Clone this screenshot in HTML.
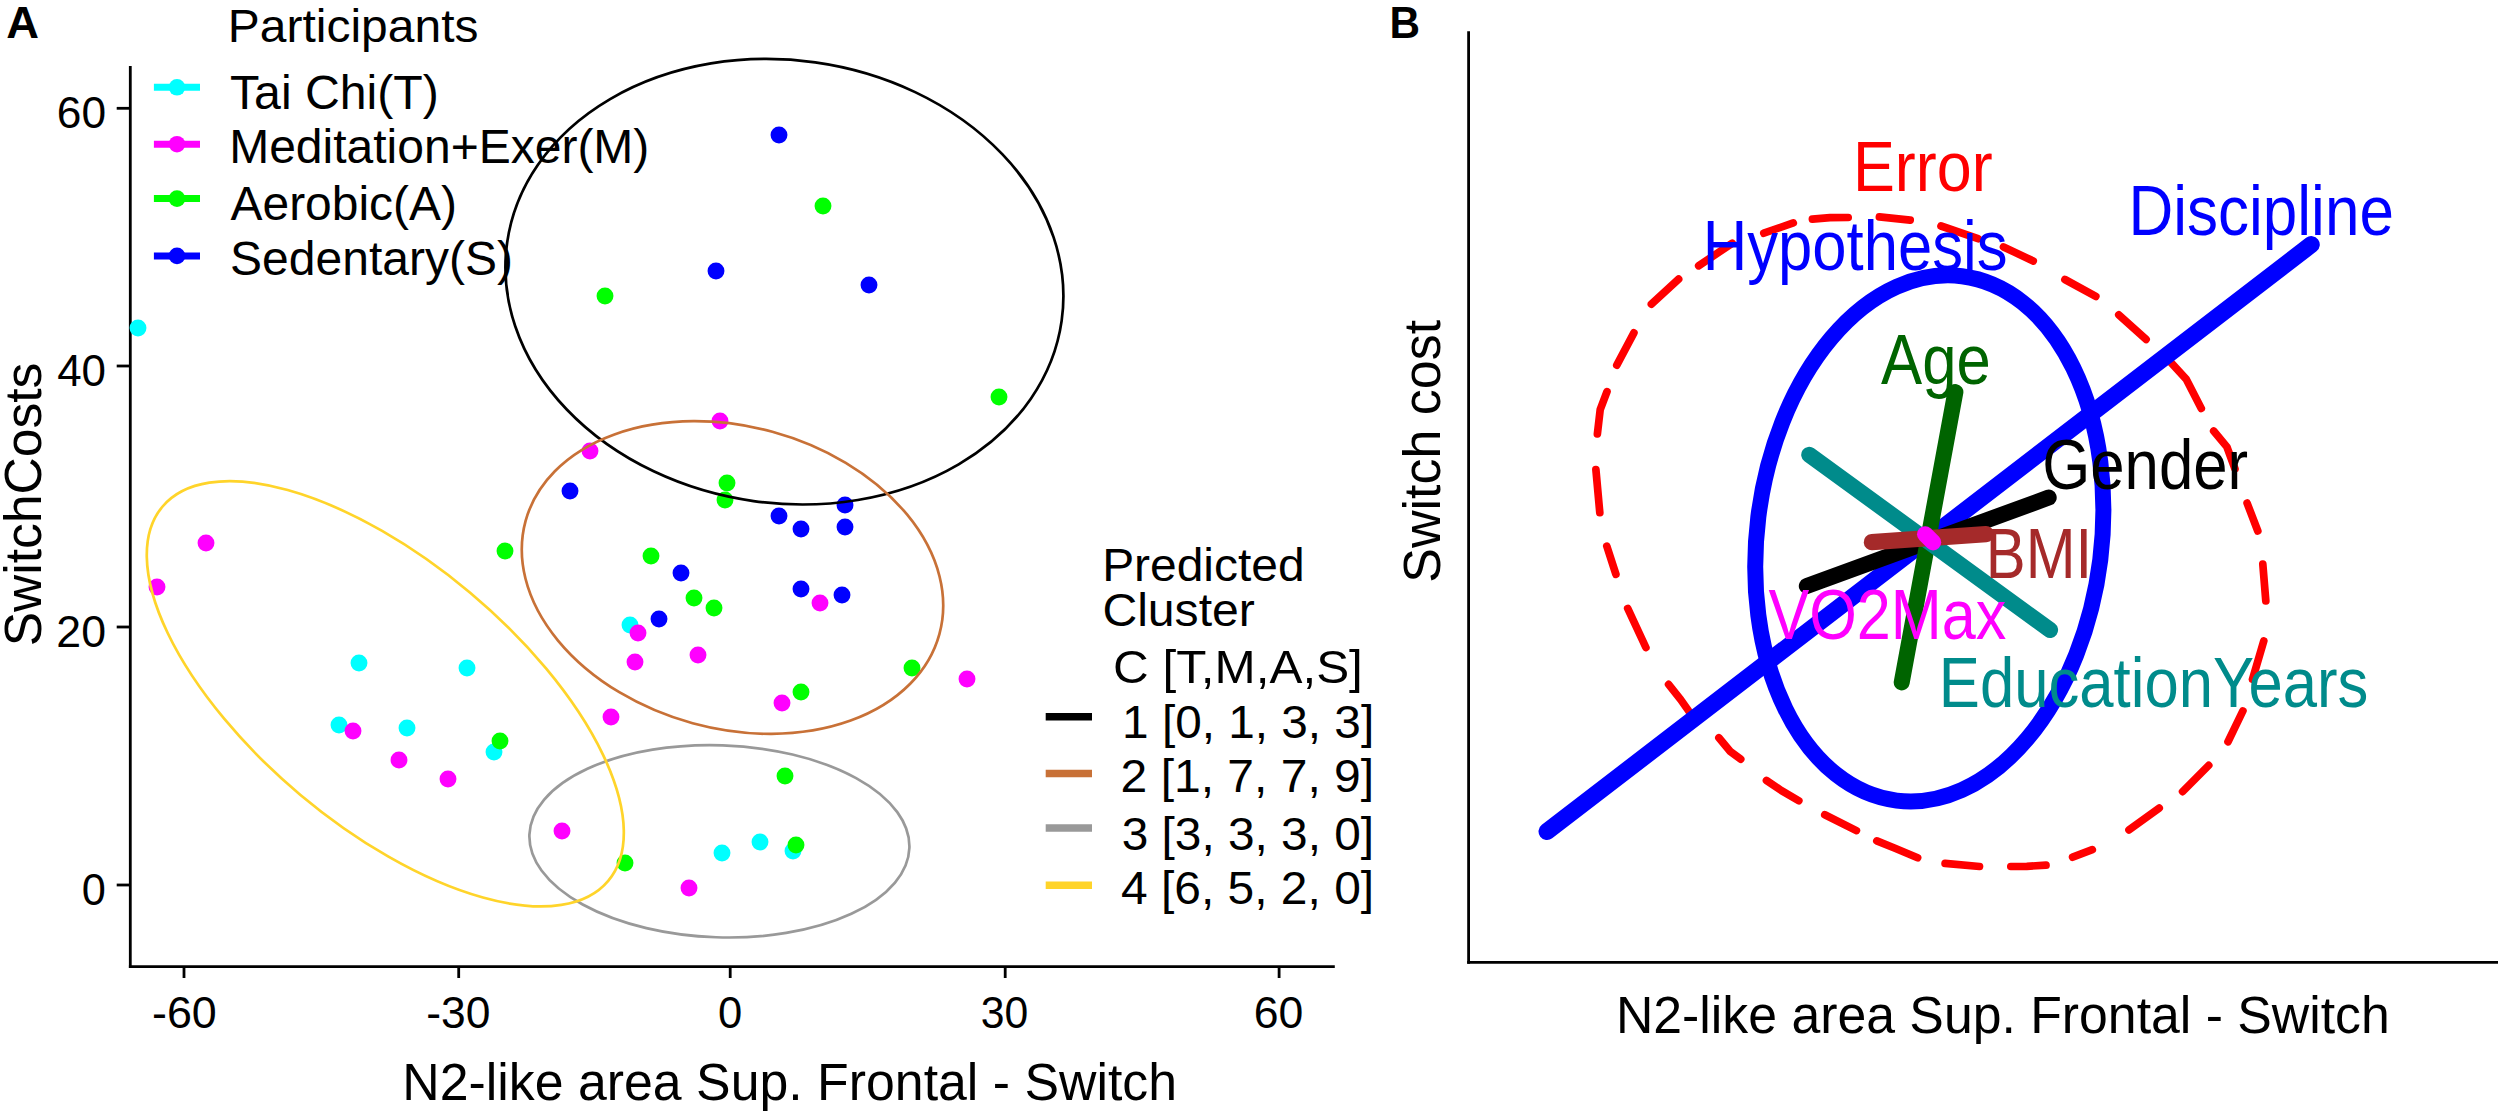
<!DOCTYPE html>
<html><head><meta charset="utf-8"><title>Figure</title>
<style>html,body{margin:0;padding:0;background:#fff;overflow:hidden;}svg{display:block}text{font-family:"Liberation Sans",Arial,Helvetica,sans-serif}</style>
</head><body>
<svg width="2500" height="1112" viewBox="0 0 2500 1112">
<rect width="2500" height="1112" fill="#fff"/>
<g id="panelA">
<line x1="130.3" y1="66" x2="130.3" y2="968.0" stroke="#000" stroke-width="2.8"/>
<line x1="128.9" y1="966.6" x2="1334.8" y2="966.6" stroke="#000" stroke-width="2.8"/>
<line x1="116.7" y1="108.3" x2="130.3" y2="108.3" stroke="#000" stroke-width="2.8"/>
<text transform="translate(56.78 128.10) scale(1.0069 1)" font-size="44.00">60</text>
<line x1="116.7" y1="366" x2="130.3" y2="366" stroke="#000" stroke-width="2.8"/>
<text transform="translate(57.21 385.80) scale(0.9978 1)" font-size="44.00">40</text>
<line x1="116.7" y1="627" x2="130.3" y2="627" stroke="#000" stroke-width="2.8"/>
<text transform="translate(56.37 646.80) scale(1.0158 1)" font-size="44.00">20</text>
<line x1="116.7" y1="885" x2="130.3" y2="885" stroke="#000" stroke-width="2.8"/>
<text transform="translate(81.87 904.80) scale(0.9852 1)" font-size="44.00">0</text>
<line x1="184" y1="966.6" x2="184" y2="978" stroke="#000" stroke-width="2.8"/>
<text transform="translate(151.98 1027.80) scale(1.0192 1)" font-size="44.00">-60</text>
<line x1="458.7" y1="966.6" x2="458.7" y2="978" stroke="#000" stroke-width="2.8"/>
<text transform="translate(426.20 1027.80) scale(1.0092 1)" font-size="44.00">-30</text>
<line x1="730.2" y1="966.6" x2="730.2" y2="978" stroke="#000" stroke-width="2.8"/>
<text transform="translate(718.06 1027.80) scale(0.9900 1)" font-size="44.00">0</text>
<line x1="1005.2" y1="966.6" x2="1005.2" y2="978" stroke="#000" stroke-width="2.8"/>
<text transform="translate(980.70 1027.80) scale(0.9706 1)" font-size="44.00">30</text>
<line x1="1279.1" y1="966.6" x2="1279.1" y2="978" stroke="#000" stroke-width="2.8"/>
<text transform="translate(1253.67 1027.80) scale(1.0136 1)" font-size="44.00">60</text>
<text transform="translate(402.32 1100.20) scale(1.0163 1)" font-size="51.00">N2-like area Sup. Frontal - Switch</text>
<text transform="translate(40.80 646.32) rotate(-90) scale(1.0114 1)" font-size="51.00">SwitchCosts</text>
<text transform="translate(6.27 38.30) scale(1.0219 1)" font-size="44.40" font-weight="bold">A</text>
<circle cx="138" cy="328" r="8.45" fill="#00ffff"/>
<circle cx="359" cy="663" r="8.45" fill="#00ffff"/>
<circle cx="467" cy="668" r="8.45" fill="#00ffff"/>
<circle cx="339" cy="725" r="8.45" fill="#00ffff"/>
<circle cx="407" cy="728" r="8.45" fill="#00ffff"/>
<circle cx="494" cy="752" r="8.45" fill="#00ffff"/>
<circle cx="630" cy="625" r="8.45" fill="#00ffff"/>
<circle cx="722" cy="853" r="8.45" fill="#00ffff"/>
<circle cx="760" cy="842" r="8.45" fill="#00ffff"/>
<circle cx="793" cy="851" r="8.45" fill="#00ffff"/>
<circle cx="720" cy="421" r="8.45" fill="#ff00ff"/>
<circle cx="590" cy="451" r="8.45" fill="#ff00ff"/>
<circle cx="206" cy="543" r="8.45" fill="#ff00ff"/>
<circle cx="157" cy="587" r="8.45" fill="#ff00ff"/>
<circle cx="638" cy="633" r="8.45" fill="#ff00ff"/>
<circle cx="635" cy="662" r="8.45" fill="#ff00ff"/>
<circle cx="698" cy="655" r="8.45" fill="#ff00ff"/>
<circle cx="820" cy="603" r="8.45" fill="#ff00ff"/>
<circle cx="967" cy="679" r="8.45" fill="#ff00ff"/>
<circle cx="782" cy="703" r="8.45" fill="#ff00ff"/>
<circle cx="611" cy="717" r="8.45" fill="#ff00ff"/>
<circle cx="353" cy="731" r="8.45" fill="#ff00ff"/>
<circle cx="399" cy="760" r="8.45" fill="#ff00ff"/>
<circle cx="448" cy="779" r="8.45" fill="#ff00ff"/>
<circle cx="562" cy="831" r="8.45" fill="#ff00ff"/>
<circle cx="689" cy="888" r="8.45" fill="#ff00ff"/>
<circle cx="823" cy="206" r="8.45" fill="#00ff00"/>
<circle cx="605" cy="296" r="8.45" fill="#00ff00"/>
<circle cx="999" cy="397" r="8.45" fill="#00ff00"/>
<circle cx="727" cy="483" r="8.45" fill="#00ff00"/>
<circle cx="725" cy="500" r="8.45" fill="#00ff00"/>
<circle cx="505" cy="551" r="8.45" fill="#00ff00"/>
<circle cx="651" cy="556" r="8.45" fill="#00ff00"/>
<circle cx="694" cy="598" r="8.45" fill="#00ff00"/>
<circle cx="714" cy="608" r="8.45" fill="#00ff00"/>
<circle cx="912" cy="668" r="8.45" fill="#00ff00"/>
<circle cx="801" cy="692" r="8.45" fill="#00ff00"/>
<circle cx="500" cy="741" r="8.45" fill="#00ff00"/>
<circle cx="785" cy="776" r="8.45" fill="#00ff00"/>
<circle cx="796" cy="845" r="8.45" fill="#00ff00"/>
<circle cx="625" cy="863" r="8.45" fill="#00ff00"/>
<circle cx="779" cy="135" r="8.45" fill="#0000ff"/>
<circle cx="716" cy="271" r="8.45" fill="#0000ff"/>
<circle cx="869" cy="285" r="8.45" fill="#0000ff"/>
<circle cx="570" cy="491" r="8.45" fill="#0000ff"/>
<circle cx="845" cy="505" r="8.45" fill="#0000ff"/>
<circle cx="779" cy="516" r="8.45" fill="#0000ff"/>
<circle cx="801" cy="529" r="8.45" fill="#0000ff"/>
<circle cx="845" cy="527" r="8.45" fill="#0000ff"/>
<circle cx="681" cy="573" r="8.45" fill="#0000ff"/>
<circle cx="801" cy="589" r="8.45" fill="#0000ff"/>
<circle cx="842" cy="595" r="8.45" fill="#0000ff"/>
<circle cx="659" cy="619" r="8.45" fill="#0000ff"/>
<ellipse cx="784.4" cy="281.7" rx="280" ry="221.5" transform="rotate(8 784.4 281.7)" fill="none" stroke="#000" stroke-width="2.7" />
<ellipse cx="732.5" cy="577.5" rx="214.5" ry="151.1" transform="rotate(15.3 732.5 577.5)" fill="none" stroke="#c87137" stroke-width="2.7" />
<ellipse cx="719.4" cy="841.3" rx="190.1" ry="96" transform="rotate(2 719.4 841.3)" fill="none" stroke="#999999" stroke-width="2.7" />
<ellipse cx="385.3" cy="693.8" rx="291" ry="132" transform="rotate(40 385.3 693.8)" fill="none" stroke="#ffd42a" stroke-width="2.7" />
<text transform="translate(227.84 41.80) scale(1.0412 1)" font-size="46.09">Participants</text>
<line x1="153.9" y1="87.3" x2="200" y2="87.3" stroke="#00ffff" stroke-width="7"/>
<circle cx="177" cy="87.3" r="8.3" fill="#00ffff"/>
<text transform="translate(230.02 109.20) scale(1.0209 1)" font-size="47.21">Tai Chi(T)</text>
<line x1="153.9" y1="144.2" x2="200" y2="144.2" stroke="#ff00ff" stroke-width="7"/>
<circle cx="177" cy="144.2" r="8.3" fill="#ff00ff"/>
<text transform="translate(229.14 163.00) scale(1.0169 1)" font-size="47.21">Meditation+Exer(M)</text>
<line x1="153.9" y1="198.6" x2="200" y2="198.6" stroke="#00ff00" stroke-width="7"/>
<circle cx="177" cy="198.6" r="8.3" fill="#00ff00"/>
<text transform="translate(230.48 220.40) scale(1.0161 1)" font-size="47.21">Aerobic(A)</text>
<line x1="153.9" y1="255.9" x2="200" y2="255.9" stroke="#0000ff" stroke-width="7"/>
<circle cx="177" cy="255.9" r="8.3" fill="#0000ff"/>
<text transform="translate(230.04 274.80) scale(1.0177 1)" font-size="47.21">Sedentary(S)</text>
<text transform="translate(1102.14 581.00) scale(1.0434 1)" font-size="45.95">Predicted</text>
<text transform="translate(1102.39 626.00) scale(1.0480 1)" font-size="45.95">Cluster</text>
<text transform="translate(1113.03 683.40) scale(1.0560 1)" font-size="46.80">C [T,M,A,S]</text>
<line x1="1045.7" y1="716.7" x2="1092" y2="716.7" stroke="#000" stroke-width="7.5"/>
<text transform="translate(1122.12 738.00) scale(1.0156 1)" font-size="47.00">1 [0, 1, 3, 3]</text>
<line x1="1045.7" y1="773.5" x2="1092" y2="773.5" stroke="#c87137" stroke-width="7.5"/>
<text transform="translate(1120.60 792.40) scale(1.0218 1)" font-size="47.00">2 [1, 7, 7, 9]</text>
<line x1="1045.7" y1="828.1" x2="1092" y2="828.1" stroke="#999999" stroke-width="7.5"/>
<text transform="translate(1121.71 849.60) scale(1.0172 1)" font-size="47.00">3 [3, 3, 3, 0]</text>
<line x1="1045.7" y1="885.2" x2="1092" y2="885.2" stroke="#ffd42a" stroke-width="7.5"/>
<text transform="translate(1120.92 903.60) scale(1.0205 1)" font-size="47.00">4 [6, 5, 2, 0]</text>
</g>
<g id="panelB">
<text transform="translate(1389.55 37.80) scale(0.9634 1)" font-size="43.90" font-weight="bold">B</text>
<line x1="1468.6" y1="31.3" x2="1468.6" y2="963.75" stroke="#000" stroke-width="2.8"/>
<line x1="1467.1999999999998" y1="962.35" x2="2498" y2="962.35" stroke="#000" stroke-width="2.8"/>
<text transform="translate(1615.93 1032.50) scale(1.0152 1)" font-size="51.00">N2-like area Sup. Frontal - Switch</text>
<text transform="translate(1440.40 582.64) rotate(-90) scale(1.0190 1)" font-size="51.00">Switch cost</text>
<path d="M1597.4 433.9 L1600.2 409.6 L1607.0 391.7 M1616.8 365.1 L1633.9 332.9 M1651.4 304.2 L1678.6 279.2 M1698.7 265.8 L1732.2 243.2 M1763.8 233.2 L1793.3 222.9 M1812.4 219.2 L1830.0 217.6 L1848.2 217.5 M1879.4 216.9 L1910.2 220.1 M1941.0 226.0 L1978.0 238.7 M2003.5 246.9 L2033.2 261.0 M2064.9 279.5 L2095.8 296.4 M2118.8 314.8 L2146.1 339.4 M2167.6 358.8 L2186.4 379.4 L2201.3 408.4 M2213.7 431.0 L2226.9 446.9 L2235.0 468.9 M2247.1 503.1 L2257.8 531.0 M2262.8 564.0 L2265.8 600.9 M2263.8 640.9 L2252.5 679.4 M2242.9 710.9 L2228.0 741.7 M2208.7 765.4 L2182.6 791.6 M2159.2 808.1 L2129.0 829.9 M2092.3 849.7 L2072.6 857.2 M2046.0 865.2 L2026.8 866.3 L2010.8 866.5 M1979.5 866.5 L1945.1 863.4 M1917.6 857.7 L1895.0 848.3 L1876.8 840.9 M1856.4 830.6 L1824.8 814.8 M1798.8 800.8 L1781.5 790.6 L1766.5 780.5 M1740.7 759.2 L1730.5 751.7 L1718.9 737.8 M1689.5 712.1 L1680.7 699.6 L1668.6 684.4 M1645.9 647.5 L1627.7 608.4 M1615.9 574.3 L1606.8 546.1 M1599.8 512.7 L1595.9 469.6" fill="none" stroke="#ff0000" stroke-width="7.7" stroke-linecap="round" stroke-linejoin="round"/>
<line x1="1547" y1="831.5" x2="2311.3" y2="244.6" stroke="#0000ff" stroke-width="17" stroke-linecap="round"/>
<ellipse cx="1929.3" cy="538.4" rx="264.2" ry="172.3" transform="rotate(-82.9 1929.3 538.4)" fill="none" stroke="#0000ff" stroke-width="16" />
<text transform="translate(1852.91 191.00) scale(0.9046 1)" font-size="69.50" fill="#ff0000">Error</text>
<text transform="translate(1702.82 270.20) scale(0.8865 1)" font-size="69.50" fill="#0000ff">Hypothesis</text>
<text transform="translate(2128.48 235.10) scale(0.8926 1)" font-size="69.50" fill="#0000ff">Discipline</text>
<text transform="translate(1881.05 384.10) scale(0.8870 1)" font-size="69.50" fill="#006400">Age</text>
<line x1="1806.8" y1="586" x2="2048.7" y2="497.6" stroke="#000" stroke-width="16" stroke-linecap="round"/>
<line x1="1955.4" y1="392" x2="1901.7" y2="682.5" stroke="#006400" stroke-width="16" stroke-linecap="round"/>
<line x1="1809.2" y1="454.8" x2="2050.1" y2="630" stroke="#008b8b" stroke-width="16" stroke-linecap="round"/>
<line x1="1871.8" y1="542.1" x2="1986" y2="534.1" stroke="#a52a2a" stroke-width="16.2" stroke-linecap="round"/>
<line x1="1925.1" y1="534.3" x2="1933.1" y2="542.3" stroke="#ff00ff" stroke-width="16.2" stroke-linecap="round"/>
<text transform="translate(2042.21 489.10) scale(0.8884 1)" font-size="69.50">Gender</text>
<text transform="translate(1985.87 577.80) scale(0.8420 1)" font-size="71.00" fill="#a52a2a">BMI</text>
<text transform="translate(1768.49 638.60) scale(0.8798 1)" font-size="69.50" fill="#ff00ff">VO2Max</text>
<text transform="translate(1938.81 706.80) scale(0.8870 1)" font-size="69.50" fill="#008b8b">EducationYears</text>
</g>
</svg>
</body></html>
